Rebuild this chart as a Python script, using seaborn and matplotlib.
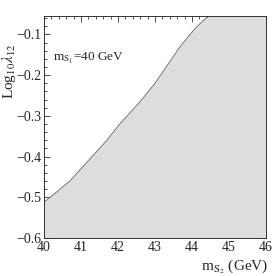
import numpy as np
import pandas as pd
import matplotlib
matplotlib.use('Agg')
import matplotlib.pyplot as plt
import seaborn as sns
from matplotlib.ticker import MultipleLocator

# boundary of the allowed region
m_s2 = [40.0, 40.3, 40.7, 41.0, 41.4, 41.7, 42.0, 42.6, 43.0, 43.68, 44.04, 44.2, 44.44]
log_lambda = [-0.512, -0.49, -0.46, -0.43, -0.39, -0.36, -0.325, -0.265, -0.22, -0.13, -0.09, -0.075, -0.055]

x_min, x_max = 40, 46
y_min, y_max = -0.6, -0.055

df = pd.DataFrame({'m_s2': m_s2 + [x_max], 'log_lambda': log_lambda + [y_max]})

sns.set_style('ticks')
plt.rcParams['font.family'] = ['Liberation Serif', 'DejaVu Serif']
plt.rcParams['mathtext.fontset'] = 'stix'

fig = plt.figure(figsize=(2.74, 2.76), dpi=100)
ax = fig.add_axes([0.1606, 0.1377, 0.810, 0.804])

ax.fill_between(df['m_s2'], df['log_lambda'], y_min, color='#dddddd', lw=0)
sns.lineplot(data=df.iloc[:-1], x='m_s2', y='log_lambda', ax=ax, color='#707070', lw=0.7)

ax.set_xlim(x_min, x_max)
ax.set_ylim(y_min, y_max)
ax.xaxis.set_major_locator(MultipleLocator(1))
ax.xaxis.set_minor_locator(MultipleLocator(0.2))
ax.yaxis.set_major_locator(MultipleLocator(0.1))
ax.yaxis.set_minor_locator(MultipleLocator(0.02))
ax.tick_params(which='both', direction='in', top=True, right=True, labelsize=10, pad=2, width=0.6, color='#333333')
ax.tick_params(which='major', length=4)
ax.tick_params(which='minor', length=2)
for s in ax.spines.values():
    s.set_linewidth(0.7)
    s.set_color('#333333')

ax.set_xlabel(r'm$_{\mathrm{S}_2}$ (GeV)', fontsize=11)
ax.xaxis.set_label_coords(0.86, -0.09)
ax.set_ylabel(r'Log$_{10}\lambda_{12}$', fontsize=11)
ax.yaxis.set_label_coords(-0.118, 0.75)
ax.text(40.25, -0.165, r'm$_{\mathrm{S}_1}$=40 GeV', fontsize=9.5)

fig.savefig('out.png', dpi=100)
